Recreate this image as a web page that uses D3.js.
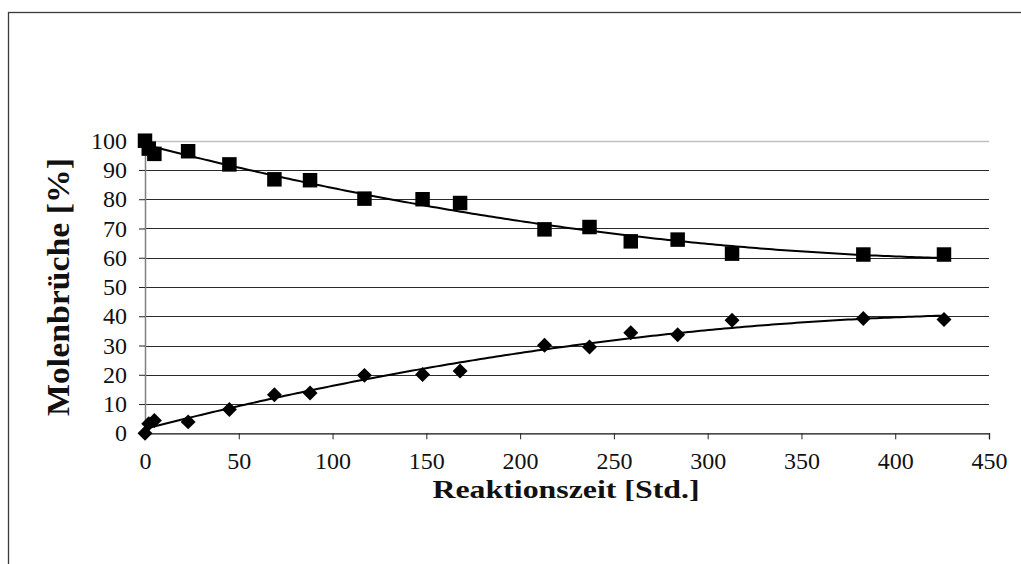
<!DOCTYPE html>
<html>
<head>
<meta charset="utf-8">
<script src="https://cdn.jsdelivr.net/npm/d3@7"></script>
<style>
  html, body { margin: 0; padding: 0; background: #fff; }
  svg { display: block; }
  .serif { font-family: "Liberation Serif", "Times New Roman", serif; }
</style>
</head>
<body>
<svg id="chart" width="1021" height="564"></svg>
<script>
// ---- data ----
const timeHours = [0, 2, 5, 23, 45, 69, 88, 117, 148, 168, 213, 237, 259, 284, 313, 383, 426];
const seriesSquare = [100, 97.3, 95.5, 96.4, 91.9, 86.8, 86.5, 80.2, 80.0, 78.7, 69.7, 70.5, 65.6, 66.2, 61.4, 61.1, 61.1];
const seriesDiamond = [0, 3.3, 4.4, 3.9, 8.1, 13.2, 13.8, 19.8, 20.1, 21.3, 30.1, 29.5, 34.4, 33.7, 38.6, 39.2, 38.9];
const xTicks = [0, 50, 100, 150, 200, 250, 300, 350, 400, 450];
const yTicks = [0, 10, 20, 30, 40, 50, 60, 70, 80, 90, 100];
const xTitle = "Reaktionszeit [Std.]";
const yTitle = "Molenbrüche [%]";

(function () {
// ---- layout ----
const svg = d3.select("#chart");
const pL = 145, pR = 989, pT = 140.7, pB = 433.3;

const x = d3.scaleLinear().domain([0, 450]).range([pL, pR]);
const y = d3.scaleLinear().domain([0, 100]).range([pB, pT]);

// outer chart border
svg.append("rect")
  .attr("x", 8.5).attr("y", 12.5)
  .attr("width", 1100).attr("height", 700)
  .attr("fill", "none").attr("stroke", "#3a3a3a").attr("stroke-width", 1.3);

// gridlines
svg.append("g").selectAll("line")
  .data(yTicks.filter(d => d > 0))
  .join("line")
  .attr("x1", pL).attr("x2", pR)
  .attr("y1", d => Math.round(y(d)) + 0.5).attr("y2", d => Math.round(y(d)) + 0.5)
  .attr("stroke", d => d === 100 ? "#c0c0c0" : "#2a2a2a")
  .attr("stroke-width", d => d === 100 ? 1.5 : 1);

// y axis
const yAxis = d3.axisLeft(y).tickValues(yTicks).tickSize(6).tickPadding(12).tickFormat(d3.format("d"));
const gy = svg.append("g").attr("transform", `translate(${pL},0)`).call(yAxis);
gy.attr("font-family", null).attr("font-size", null);
gy.select(".domain").attr("stroke", "#808080").attr("stroke-width", 1.5);
gy.selectAll(".tick line").attr("stroke", "#222");
gy.selectAll(".tick text")
  .attr("class", "serif")
  .style("font-size", "24px").attr("fill", "#111");

// x axis
const xAxis = d3.axisBottom(x).tickValues(xTicks).tickSize(6).tickPadding(13).tickFormat(d3.format("d"));
const gx = svg.append("g").attr("transform", `translate(0,${pB})`).call(xAxis);
gx.attr("font-family", null).attr("font-size", null);
gx.select(".domain").attr("stroke", "#111").attr("stroke-width", 1.3);
gx.selectAll(".tick line").attr("stroke", "#222");
gx.selectAll(".tick text")
  .attr("class", "serif")
  .style("font-size", "24px").attr("fill", "#111");

// polynomial (order 2) trendline, least squares like the spreadsheet trendline
function polyFit2(xs, ys) {
  let s = [0, 0, 0, 0, 0], t = [0, 0, 0];
  xs.forEach((xv, i) => {
    let p = 1;
    for (let k = 0; k < 5; k++) { s[k] += p; if (k < 3) t[k] += p * ys[i]; p *= xv; }
  });
  const A = [[s[0], s[1], s[2], t[0]], [s[1], s[2], s[3], t[1]], [s[2], s[3], s[4], t[2]]];
  for (let c = 0; c < 3; c++) {
    for (let r = c + 1; r < 3; r++) {
      const f = A[r][c] / A[c][c];
      for (let k = c; k < 4; k++) A[r][k] -= f * A[c][k];
    }
  }
  const b = [0, 0, 0];
  for (let r = 2; r >= 0; r--) {
    let v = A[r][3];
    for (let k = r + 1; k < 3; k++) v -= A[r][k] * b[k];
    b[r] = v / A[r][r];
  }
  return xv => b[0] + b[1] * xv + b[2] * xv * xv;
}

const xMax = d3.max(timeHours);
const samples = d3.range(0, 201).map(i => xMax * i / 200);
const line = d3.line().x(d => x(d[0])).y(d => y(d[1]));

[seriesSquare, seriesDiamond].forEach(vals => {
  const f = polyFit2(timeHours, vals);
  svg.append("path")
    .attr("d", line(samples.map(t => [t, f(t)])))
    .attr("fill", "none").attr("stroke", "#000").attr("stroke-width", 2);
});

// markers
const sq = d3.symbol(d3.symbolSquare, 210)();
svg.append("g").selectAll("path")
  .data(timeHours.map((t, i) => [t, seriesSquare[i]]))
  .join("path")
  .attr("d", sq)
  .attr("transform", d => `translate(${x(d[0])},${y(d[1])})`)
  .attr("fill", "#000");

const dm = d3.symbol(d3.symbolSquare, 112)();
svg.append("g").selectAll("path")
  .data(timeHours.map((t, i) => [t, seriesDiamond[i]]))
  .join("path")
  .attr("d", dm)
  .attr("transform", d => `translate(${x(d[0])},${y(d[1])}) rotate(45)`)
  .attr("fill", "#000");

// axis titles
svg.append("text")
  .attr("class", "serif")
  .attr("x", 566).attr("y", 498)
  .attr("text-anchor", "middle")
  .style("font-weight", "bold").style("font-size", "26px")
  .attr("textLength", 267).attr("lengthAdjust", "spacingAndGlyphs")
  .attr("fill", "#111")
  .text(xTitle);

svg.append("text")
  .attr("class", "serif")
  .attr("transform", "translate(69,287) rotate(-90)")
  .attr("text-anchor", "middle")
  .style("font-weight", "bold").style("font-size", "32px")
  .attr("textLength", 258).attr("lengthAdjust", "spacingAndGlyphs")
  .attr("fill", "#111")
  .text(yTitle);
})();
</script>
</body>
</html>
